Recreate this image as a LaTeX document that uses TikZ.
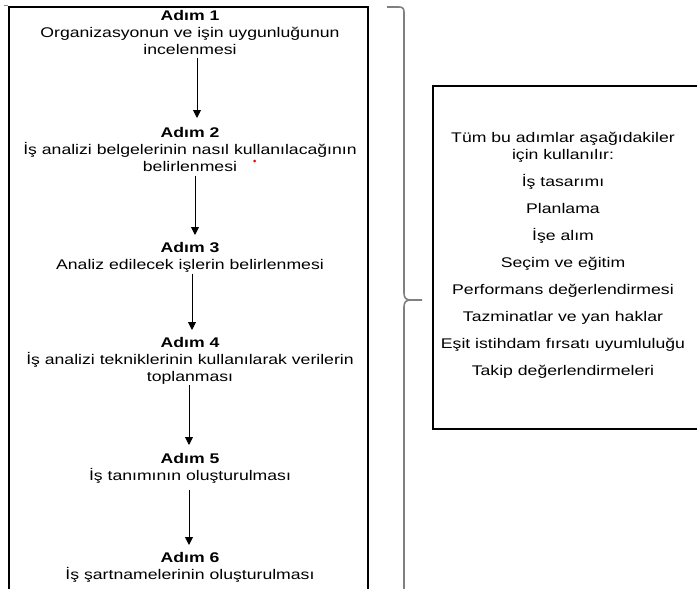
\documentclass[tikz,border=0pt]{standalone}
\usepackage{fontspec}
\setmainfont{Liberation Sans}[FakeStretch=1.26]
\usetikzlibrary{arrows.meta}

\begin{document}
\begin{tikzpicture}[x=1pt,y=-1pt,
  stepnode/.style={anchor=north, inner sep=0pt, align=center,
                   font=\fontsize{14}{17}\selectfont},
  usestext/.style={anchor=north, inner sep=0pt, align=center,
                   font=\fontsize{14}{17}\selectfont},
  arr/.style={line width=0.9pt, -{Triangle[width=8pt,length=8pt]}},
  framebox/.style={draw=black, line width=1.1pt},
  bracec/.style={draw=black!50, line width=1.6pt}]

\path[use as bounding box] (0,0) rectangle (697,589);
\clip (0,0) rectangle (697,589);

% frame around the steps (runs off the bottom edge)
\draw[framebox] (9,600) -- (9,7) -- (368,7) -- (368,600);
% small anchor mark
\draw[black!45, line width=0.8pt] (4,5) -- (7.5,5);

% the six steps
\node[stepnode] (s1) at (190,10.5) {\textbf{Adım 1}\\Organizasyonun ve işin uygunluğunun\\incelenmesi};
\node[stepnode] (s2) at (190,127) {\textbf{Adım 2}\\İş analizi belgelerinin nasıl kullanılacağının\\belirlenmesi};
\node[stepnode] (s3) at (190,242) {\textbf{Adım 3}\\Analiz edilecek işlerin belirlenmesi};
\node[stepnode] (s4) at (190,337) {\textbf{Adım 4}\\İş analizi tekniklerinin kullanılarak verilerin\\toplanması};
\node[stepnode] (s5) at (190,453) {\textbf{Adım 5}\\İş tanımının oluşturulması};
\node[stepnode] (s6) at (190,552) {\textbf{Adım 6}\\İş şartnamelerinin oluşturulması};

\fill[red!90!black] (254.5,161) circle (1.5pt);

% arrows between steps
\draw[arr] ([xshift=7pt,yshift=-3pt]s1.south) -- ([xshift=7pt,yshift=9pt]s2.north);
\draw[arr] ([xshift=5pt,yshift=-4pt]s2.south) -- ([xshift=5pt,yshift=7pt]s3.north);
\draw[arr] ([xshift=2pt,yshift=-1pt]s3.south) -- ([xshift=2pt,yshift=7pt]s4.north);
\draw[arr] ([xshift=-1pt,yshift=-1pt]s4.south) -- ([xshift=-1pt,yshift=8pt]s5.north);
\draw[arr] ([xshift=-1pt,yshift=-6pt]s5.south) -- ([xshift=-1pt,yshift=7pt]s6.north);

% brace grouping all steps
\draw[bracec] (387,7) -- (399,7) .. controls (402.5,7) and (404,8.5) .. (404,12)
  -- (404,293) .. controls (404,298) and (406,300) .. (411,300) -- (422,300);
\draw[bracec] (404,600) -- (404,307) .. controls (404,302) and (406,300) .. (411,300);

% box with the uses of the steps
\node[draw=black, line width=2pt, inner sep=0pt, minimum width=272pt, minimum height=343pt,
      anchor=north west] (usesbox) at (432,85) {};
\node[usestext] (uses) at (563,132) {Tüm bu adımlar aşağıdakiler\\için kullanılır:\\[10pt]
  İş tasarımı\\[10pt]Planlama\\[10pt]İşe alım\\[10pt]Seçim ve eğitim\\[10pt]
  Performans değerlendirmesi\\[10pt]Tazminatlar ve yan haklar\\[10pt]
  Eşit istihdam fırsatı uyumluluğu\\[10pt]Takip değerlendirmeleri};

\end{tikzpicture}
\end{document}
